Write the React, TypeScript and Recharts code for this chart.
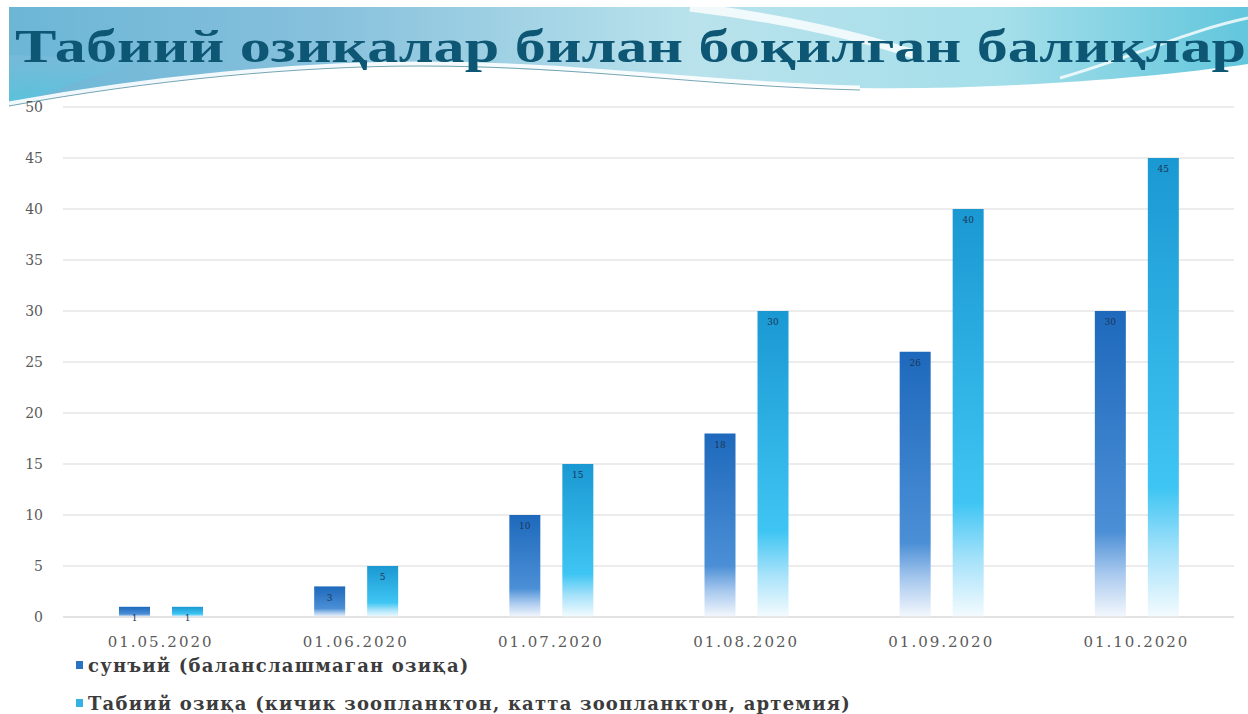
import { BarChart, Bar, XAxis, YAxis, CartesianGrid, LabelList } from 'recharts';

const title = 'Табиий озиқалар билан боқилган балиқлар';
const dates = ['01.05.2020', '01.06.2020', '01.07.2020', '01.08.2020', '01.09.2020', '01.10.2020'];
const artificialFeed = [1, 3, 10, 18, 26, 30];
const naturalFeed = [1, 5, 15, 30, 40, 45];
const yTicks = [0, 5, 10, 15, 20, 25, 30, 35, 40, 45, 50];
const seriesNames = [
  'сунъий (баланслашмаган озиқа)',
  'Табиий озиқа (кичик зоопланктон, катта зоопланктон, артемия)',
];

const data = dates.map((d, i) => ({
  date: d,
  artificial: artificialFeed[i],
  natural: naturalFeed[i],
}));

const tickFont = 'DejaVu Serif, serif';

function Header() {
  return (
    <svg width={1248} height={130} style={{ position: 'absolute', left: 0, top: 0 }}>
      <defs>
        <linearGradient id="hdrBg" x1="0" y1="0" x2="1" y2="0">
          <stop offset="0" stopColor="#6cb6d6" />
          <stop offset="0.25" stopColor="#86c0dc" />
          <stop offset="0.55" stopColor="#b9e2ec" />
          <stop offset="0.8" stopColor="#a5dfea" />
          <stop offset="1" stopColor="#62c6dc" />
        </linearGradient>
        <linearGradient id="hdrLeft" x1="0" y1="0" x2="0" y2="1">
          <stop offset="0" stopColor="#7ebcd9" />
          <stop offset="1" stopColor="#4cc9e0" />
        </linearGradient>
      </defs>
      <path d="M9,7 L1248,7 L1248,64 C1150,78 1000,90 860,88 C700,84 560,66 400,66 C250,68 120,86 9,106 Z" fill="url(#hdrBg)" />
      <path d="M9,55 C50,56 90,58 130,62 C90,78 50,92 9,106 Z" fill="url(#hdrLeft)" opacity={0.6} />
      <path d="M9,104 C150,78 300,64 420,64 C580,64 700,84 860,88" fill="none" stroke="#ffffff" strokeWidth={5} opacity={0.9} />
      <path d="M9,106 C150,80 300,66 420,66 C580,66 700,86 860,90" fill="none" stroke="#3a7f94" strokeWidth={1} opacity={0.7} />
      <path d="M690,7 C780,18 860,36 920,56" fill="none" stroke="#ffffff" strokeWidth={9} opacity={0.8} />
      <path d="M1060,78 C1130,58 1190,30 1248,18" fill="none" stroke="#ffffff" strokeWidth={3} opacity={0.8} />
      <text
        x={15}
        y={62}
        textLength={1231}
        lengthAdjust="spacingAndGlyphs"
        fontFamily="Liberation Serif, serif"
        fontWeight="bold"
        fontSize={47}
        fill="#0d5775"
      >
        {title}
      </text>
    </svg>
  );
}

function LegendBlock() {
  const colors = ['#2c72c2', '#35b1e2'];
  const tops = [654, 692];
  return (
    <>
      {seriesNames.map((name, i) => (
        <div
          key={name}
          style={{
            position: 'absolute',
            left: 76,
            top: tops[i],
            height: 22,
            display: 'flex',
            alignItems: 'center',
            fontFamily: tickFont,
            fontSize: 18,
            fontWeight: 600,
            letterSpacing: 1.2,
            color: '#3c3c3c',
            whiteSpace: 'nowrap',
          }}
        >
          <span style={{ width: 7, height: 8, background: colors[i], marginRight: 5, display: 'inline-block' }} />
          {name}
        </div>
      ))}
    </>
  );
}

export default function App() {
  return (
    <div style={{ position: 'absolute', left: 0, top: 0, width: 1248, height: 714, background: '#ffffff', overflow: 'hidden' }}>
      <Header />
      <div style={{ position: 'absolute', left: 0, top: 0 }}>
        <BarChart
          width={1248}
          height={714}
          data={data}
          margin={{ top: 107, right: 14, left: 0, bottom: 57 }}
          barSize={31}
          barGap={22}
        >
          <defs>
            <linearGradient id="gradDark" x1="0" y1="0" x2="0" y2="1">
              <stop offset="0" stopColor="#1e69bc" />
              <stop offset="0.72" stopColor="#4b8fd6" />
              <stop offset="0.86" stopColor="#a9c9ee" />
              <stop offset="1" stopColor="#f4f8fd" />
            </linearGradient>
            <linearGradient id="gradLight" x1="0" y1="0" x2="0" y2="1">
              <stop offset="0" stopColor="#1a98d2" />
              <stop offset="0.72" stopColor="#3fc5f3" />
              <stop offset="0.86" stopColor="#a6e2fa" />
              <stop offset="1" stopColor="#f4fbfe" />
            </linearGradient>
          </defs>
          <CartesianGrid vertical={false} stroke="#d9d9d9" />
          <XAxis
            dataKey="date"
            tickLine={false}
            axisLine={{ stroke: '#d9d9d9' }}
            height={40}
            tickMargin={13}
            tick={{ fill: '#5a5a5a', fontSize: 15, fontFamily: tickFont, letterSpacing: 2 }}
          />
          <YAxis
            domain={[0, 50]}
            ticks={yTicks}
            width={63}
            tickLine={false}
            axisLine={false}
            tickMargin={14}
            tick={{ fill: '#5a5a5a', fontSize: 14, fontFamily: tickFont }}
          />
          <Bar dataKey="artificial" name={seriesNames[0]} fill="url(#gradDark)" isAnimationActive={false}>
            <LabelList dataKey="artificial" position="insideTop" offset={8} fill="#1d3557" fontSize={9} fontFamily={tickFont} />
          </Bar>
          <Bar dataKey="natural" name={seriesNames[1]} fill="url(#gradLight)" isAnimationActive={false}>
            <LabelList dataKey="natural" position="insideTop" offset={8} fill="#1d3557" fontSize={9} fontFamily={tickFont} />
          </Bar>
        </BarChart>
      </div>
      <LegendBlock />
    </div>
  );
}
